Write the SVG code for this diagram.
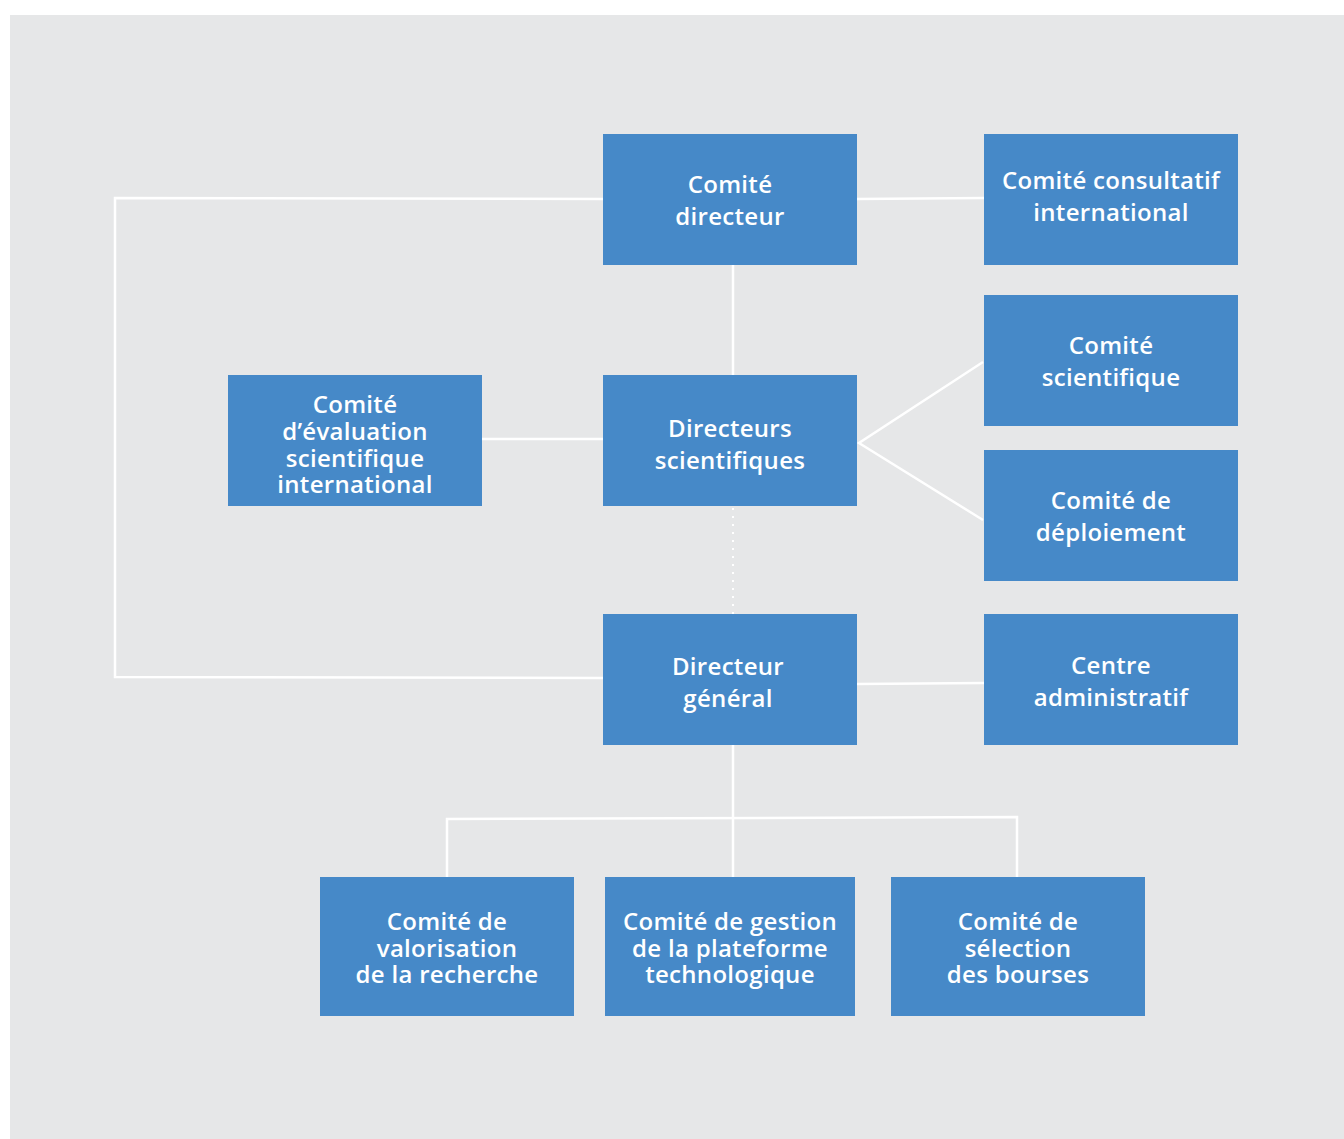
<svg xmlns="http://www.w3.org/2000/svg" width="1344" height="1139" viewBox="0 0 1344 1139">
<style>
.box{fill:#4689c8}
.t{font-family:"Open Sans","Liberation Sans",sans-serif;font-weight:600;font-size:24px;fill:#ffffff;text-anchor:middle;letter-spacing:0.3px}
.c{fill:none;stroke:#ffffff;stroke-width:2.5}
.d{fill:none;stroke:#ffffff;stroke-width:2;stroke-dasharray:2 6}
</style>
<rect x="0" y="0" width="1344" height="1139" fill="#ffffff"/>
<rect x="10" y="15" width="1334" height="1124" fill="#e6e7e8"/>
<g id="connectors">
<polyline class="c" points="603,199 115,198 115,677 603,678"/>
<line class="c" x1="857" y1="199" x2="984" y2="198"/>
<line class="c" x1="733" y1="265" x2="733" y2="375"/>
<line class="c" x1="482" y1="439" x2="603" y2="439"/>
<polyline class="c" points="983,362 859,443 983,520"/>
<line class="d" x1="733" y1="508" x2="733" y2="614"/>
<line class="c" x1="857" y1="684" x2="984" y2="683"/>
<line class="c" x1="733" y1="745" x2="733" y2="877"/>
<polyline class="c" points="447,877 447,819 1017,817 1017,877"/>
</g>
<g id="comite-directeur"><rect class="box" x="603" y="134" width="254" height="131"/><text class="t" x="730" y="193">Comité</text><text class="t" x="730" y="225">directeur</text></g>
<g id="comite-consultatif"><rect class="box" x="984" y="134" width="254" height="131"/><text class="t" x="1111" y="189">Comité consultatif</text><text class="t" x="1111" y="221">international</text></g>
<g id="comite-scientifique"><rect class="box" x="984" y="295" width="254" height="131"/><text class="t" x="1111" y="354">Comité</text><text class="t" x="1111" y="386">scientifique</text></g>
<g id="comite-deploiement"><rect class="box" x="984" y="450" width="254" height="131"/><text class="t" x="1111" y="509">Comité de</text><text class="t" x="1111" y="541">déploiement</text></g>
<g id="comite-evaluation"><rect class="box" x="228" y="375" width="254" height="131"/><text class="t" x="355" y="413">Comité</text><text class="t" x="355" y="440">d’évaluation</text><text class="t" x="355" y="467">scientifique</text><text class="t" x="355" y="493">international</text></g>
<g id="directeurs-scientifiques"><rect class="box" x="603" y="375" width="254" height="131"/><text class="t" x="730" y="437">Directeurs</text><text class="t" x="730" y="469">scientifiques</text></g>
<g id="directeur-general"><rect class="box" x="603" y="614" width="254" height="131"/><text class="t" x="728" y="675">Directeur</text><text class="t" x="728" y="707">général</text></g>
<g id="centre-administratif"><rect class="box" x="984" y="614" width="254" height="131"/><text class="t" x="1111" y="674">Centre</text><text class="t" x="1111" y="706">administratif</text></g>
<g id="comite-valorisation"><rect class="box" x="320" y="877" width="254" height="139"/><text class="t" x="447" y="930">Comité de</text><text class="t" x="447" y="957">valorisation</text><text class="t" x="447" y="983">de la recherche</text></g>
<g id="comite-gestion"><rect class="box" x="605" y="877" width="250" height="139"/><text class="t" x="730" y="930">Comité de gestion</text><text class="t" x="730" y="957">de la plateforme</text><text class="t" x="730" y="983">technologique</text></g>
<g id="comite-selection"><rect class="box" x="891" y="877" width="254" height="139"/><text class="t" x="1018" y="930">Comité de</text><text class="t" x="1018" y="957">sélection</text><text class="t" x="1018" y="983">des bourses</text></g>
</svg>
